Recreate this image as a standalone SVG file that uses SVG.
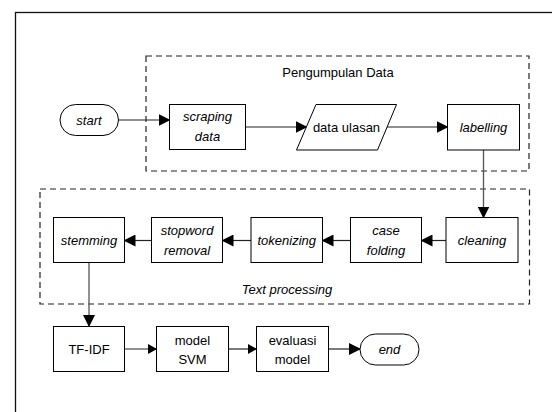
<svg xmlns="http://www.w3.org/2000/svg" width="552" height="412" viewBox="0 0 552 412">
<defs>
<marker id="ah" markerWidth="12" markerHeight="12" refX="11" refY="6" orient="auto" markerUnits="userSpaceOnUse">
<path d="M0,0 L12,6 L0,12 Z" fill="#000"/>
</marker>
<marker id="ahs" markerWidth="9" markerHeight="10" refX="8.5" refY="5" orient="auto" markerUnits="userSpaceOnUse">
<path d="M0,0 L9,5 L0,10 Z" fill="#000"/>
</marker>
<style>
.box{fill:#fff;stroke:#000;stroke-width:1}
.grp{fill:none;stroke:#222;stroke-width:1.2;stroke-dasharray:6,4}
.t{font-family:"Liberation Sans",Arial,sans-serif;font-size:13px;fill:#000;text-anchor:middle}
.i{font-style:italic}
.c{fill:none;stroke:#222;stroke-width:1.2}
.cg{fill:none;stroke:#555;stroke-width:1.3}
</style>
</defs>
<rect x="0" y="0" width="552" height="412" fill="#fff"/>
<rect x="15.5" y="12.5" width="600" height="500" fill="none" stroke="#111" stroke-width="1.3"/>

<g id="group-pengumpulan">
<rect class="grp" x="146" y="56" width="383" height="115"/>
<text class="t" x="338" y="77">Pengumpulan Data</text>
</g>
<g id="group-text-processing">
<rect class="grp" x="40" y="189" width="489.5" height="115"/>
<text class="t i" x="287" y="294">Text processing</text>
</g>

<g id="connectors">
<line class="c" x1="118.5" y1="120" x2="169.5" y2="120" marker-end="url(#ah)"/>
<line class="c" x1="245.5" y1="127" x2="306.5" y2="127" marker-end="url(#ah)"/>
<line class="c" x1="387" y1="127" x2="447.5" y2="127" marker-end="url(#ah)"/>
<line class="cg" x1="483.5" y1="150" x2="483.5" y2="217.5" marker-end="url(#ah)"/>
<line class="c" x1="446" y1="240.5" x2="421.5" y2="240.5" marker-end="url(#ah)"/>
<line class="c" x1="350.5" y1="240.5" x2="322.5" y2="240.5" marker-end="url(#ah)"/>
<line class="c" x1="251" y1="240.5" x2="222.5" y2="240.5" marker-end="url(#ah)"/>
<line class="c" x1="151.5" y1="240.5" x2="124.5" y2="240.5" marker-end="url(#ah)"/>
<line class="cg" x1="89" y1="262.5" x2="89" y2="326" marker-end="url(#ah)"/>
<line class="c" x1="124.5" y1="349" x2="156.5" y2="349" marker-end="url(#ahs)"/>
<line class="c" x1="228.5" y1="349" x2="256.5" y2="349" marker-end="url(#ahs)"/>
<line class="c" x1="328.5" y1="349" x2="360" y2="349" marker-end="url(#ah)"/>
</g>

<g id="start">
<rect class="box" x="60" y="104.5" width="58.5" height="31" rx="15.5" ry="15.5"/>
<text class="t i" x="89" y="124.5">start</text>
</g>
<g id="scraping-data">
<rect class="box" x="169.5" y="104.5" width="76" height="45"/>
<text class="t i" x="207.5" y="121">scraping</text>
<text class="t i" x="207.5" y="141">data</text>
</g>
<g id="data-ulasan">
<polygon class="box" points="316,104.5 396.5,104.5 377.5,150 296.5,150"/>
<text class="t" x="346.5" y="131.5">data ulasan</text>
</g>
<g id="labelling">
<rect class="box" x="447.5" y="104.5" width="72" height="45.5"/>
<text class="t i" x="483.5" y="131.5">labelling</text>
</g>
<g id="cleaning">
<rect class="box" x="446" y="217.5" width="72" height="45"/>
<text class="t i" x="482" y="244.5">cleaning</text>
</g>
<g id="case-folding">
<rect class="box" x="350.5" y="217.5" width="71" height="45"/>
<text class="t i" x="386" y="235">case</text>
<text class="t i" x="386" y="255">folding</text>
</g>
<g id="tokenizing">
<rect class="box" x="251" y="217.5" width="71.5" height="45"/>
<text class="t i" x="286.75" y="244.5">tokenizing</text>
</g>
<g id="stopword-removal">
<rect class="box" x="151.5" y="217.5" width="71" height="45"/>
<text class="t i" x="187" y="235">stopword</text>
<text class="t i" x="187" y="255">removal</text>
</g>
<g id="stemming">
<rect class="box" x="53.5" y="217.5" width="71" height="45"/>
<text class="t i" x="89" y="244.5">stemming</text>
</g>
<g id="tf-idf">
<rect class="box" x="53.5" y="326.5" width="71" height="45"/>
<text class="t" x="89" y="353.5">TF-IDF</text>
</g>
<g id="model-svm">
<rect class="box" x="156.5" y="326.5" width="72" height="45"/>
<text class="t" x="192.5" y="344.5">model</text>
<text class="t" x="192.5" y="364">SVM</text>
</g>
<g id="evaluasi-model">
<rect class="box" x="256.5" y="326.5" width="72" height="45"/>
<text class="t" x="292.5" y="344.5">evaluasi</text>
<text class="t" x="292.5" y="364">model</text>
</g>
<g id="end">
<rect class="box" x="360" y="334" width="59" height="31" rx="15.5" ry="15.5"/>
<text class="t i" x="389.5" y="354">end</text>
</g>
</svg>
